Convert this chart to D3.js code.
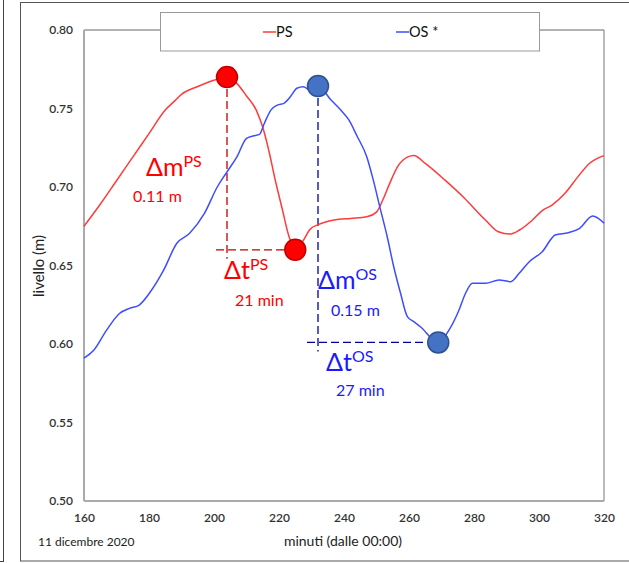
<!DOCTYPE html>
<html>
<head>
<meta charset="utf-8">
<script src="https://cdn.jsdelivr.net/npm/d3@7"></script>
<style>
  body { margin: 0; background: #fff; }
  svg text { font-family: Lato, "Open Sans", sans-serif; }
</style>
</head>
<body>
<div id="chart"></div>
<script>
// PS series (minutes, level m)
const psTime = [160, 165, 170, 175, 180, 185, 188, 190, 195, 200, 204, 207, 210, 213, 215, 217, 219, 221, 223, 225,
  227.5, 229.5, 232, 237, 242, 247, 250, 252, 254, 256.5, 259.5, 261.5, 265, 271, 277, 283.5, 287.5, 291, 294, 298,
  301, 304, 308, 312, 315.5, 320];
const psLevel = [0.675, 0.689, 0.704, 0.719, 0.734, 0.749, 0.755, 0.759, 0.764, 0.768, 0.770, 0.766, 0.758, 0.749, 0.738, 0.722, 0.703, 0.686, 0.669, 0.660,
  0.666, 0.673, 0.676, 0.679, 0.680, 0.681, 0.684, 0.692, 0.702, 0.713, 0.719, 0.720, 0.715, 0.7045, 0.693, 0.679, 0.6715, 0.670, 0.6726, 0.679,
  0.685, 0.6885, 0.696, 0.7066, 0.715, 0.720];

// OS series
const osTime = [160, 163, 167, 171, 174, 177, 180, 184.5, 188.5, 192.5, 197, 201, 203.7, 207, 210, 212, 214, 215.5, 217.5, 219.5,
  221.5, 223.5, 225.5, 227.5, 229.5, 232, 236, 239, 241.5, 244, 247, 249, 251, 253.3, 255.3, 257.4, 259.5, 261.5, 263.5, 269,
  272.3, 275.4, 277.4, 279.5, 283.6, 287.7, 291.3, 293.9, 297, 301, 305, 309, 312.5, 316.5, 320];
const osLevel = [0.591, 0.596, 0.609, 0.6196, 0.6227, 0.6248, 0.632, 0.647, 0.664, 0.6705, 0.683, 0.700, 0.7087, 0.719, 0.731, 0.7325, 0.7335, 0.7406, 0.749, 0.7522,
  0.7533, 0.7575, 0.7629, 0.7639, 0.7618, 0.7643, 0.7554, 0.749, 0.7427, 0.7325, 0.7193, 0.7045, 0.6875, 0.6683, 0.6492, 0.6323, 0.6174, 0.6142, 0.611, 0.601,
  0.6089, 0.6217, 0.6323, 0.6387, 0.6387, 0.6408, 0.6397, 0.645, 0.6524, 0.6588, 0.6694, 0.6709, 0.6737, 0.6815, 0.677];

// peak / trough markers
const psMarks = [{ t: 204, v: 0.770 }, { t: 225, v: 0.660 }];
const osMarks = [{ t: 232, v: 0.7643 }, { t: 269, v: 0.601 }];

const xTicks = [160, 180, 200, 220, 240, 260, 280, 300, 320];
const yTicks = [0.50, 0.55, 0.60, 0.65, 0.70, 0.75, 0.80];

const width = 629, height = 563;
const margin = { top: 30, right: 25, bottom: 62, left: 84 };

const colors = {
  ps: "#ff3b3b",
  os: "#3d4dff",
  psDark: "#c00000",
  osDark: "#0000a0",
  psText: "#ff0000",
  osText: "#1a1aff",
};

const svg = d3.select("#chart").append("svg")
  .attr("width", width).attr("height", height);

// outer frames
svg.append("rect").attr("x", -60).attr("y", -10).attr("width", 63.5).attr("height", 571.5)
  .attr("fill", "none").attr("stroke", "#444");
svg.append("rect").attr("x", 20.5).attr("y", 2.5).attr("width", 640).attr("height", 558.5)
  .attr("fill", "none").attr("stroke", "#555");

const x = d3.scaleLinear().domain([160, 320]).range([margin.left, width - margin.right]);
const y = d3.scaleLinear().domain([0.5, 0.8]).range([height - margin.bottom, margin.top]);

// plot area border
const x0 = x(160), x1 = x(320), y0 = y(0.5), y1 = y(0.8);
svg.append("line").attr("x1", x0).attr("x2", x1).attr("y1", y1).attr("y2", y1).attr("stroke", "#666");
svg.append("line").attr("x1", x1).attr("x2", x1).attr("y1", y1).attr("y2", y0).attr("stroke", "#777");
svg.append("line").attr("x1", x0).attr("x2", x0).attr("y1", y1).attr("y2", y0).attr("stroke", "#aaa").attr("stroke-width", 2);
svg.append("line").attr("x1", x0).attr("x2", x1).attr("y1", y0).attr("y2", y0).attr("stroke", "#aaa").attr("stroke-width", 2);

// axes
svg.append("g")
  .attr("transform", `translate(0, ${y0})`)
  .call(d3.axisBottom(x).tickValues(xTicks).tickSize(0).tickPadding(12).tickFormat(d3.format("d")))
  .call((g) => g.select(".domain").remove())
  .selectAll("text")
  .style("font-family", "Lato, sans-serif")
  .style("font-size", "12px")
  .style("font-weight", "600")
  .attr("fill", "#333");

svg.append("g")
  .attr("transform", `translate(${x0}, 0)`)
  .call(d3.axisLeft(y).tickValues(yTicks).tickSize(0).tickPadding(11).tickFormat(d3.format(".2f")))
  .call((g) => g.select(".domain").remove())
  .selectAll("text")
  .style("font-family", "Lato, sans-serif")
  .style("font-size", "12px")
  .style("font-weight", "600")
  .attr("fill", "#333");

svg.append("text")
  .attr("x", (x0 + x1) / 2 - 1).attr("y", 546)
  .attr("text-anchor", "middle")
  .style("font-size", "14px").attr("fill", "#222")
  .text("minuti (dalle 00:00)");

svg.append("text")
  .attr("transform", "translate(44, 266) rotate(-90)")
  .attr("text-anchor", "middle")
  .style("font-size", "15px").attr("fill", "#222")
  .text("livello (m)");

svg.append("text")
  .attr("x", 38).attr("y", 546)
  .style("font-size", "12px").attr("fill", "#222")
  .text("11 dicembre 2020");

// dashed guides
const guides = [
  { m: psMarks, color: colors.psDark },
  { m: osMarks, color: colors.osDark },
];
guides.forEach((g) => {
  const [a, b] = g.m;
  svg.append("line")
    .attr("x1", x(a.t)).attr("x2", x(a.t))
    .attr("y1", y(a.v)).attr("y2", y(b.v) + 9)
    .attr("stroke", g.color).attr("stroke-width", 1.3).attr("stroke-dasharray", "8,4");
  svg.append("line")
    .attr("x1", x(a.t) - 11).attr("x2", x(b.t))
    .attr("y1", y(b.v)).attr("y2", y(b.v))
    .attr("stroke", g.color).attr("stroke-width", 1.3).attr("stroke-dasharray", "8,4");
});

// lines
const line = d3.line()
  .x((d) => x(d[0]))
  .y((d) => y(d[1]))
  .curve(d3.curveMonotoneX);

svg.append("path")
  .datum(d3.zip(psTime, psLevel))
  .attr("d", line)
  .attr("fill", "none").attr("stroke", colors.ps).attr("stroke-width", 1.5);

svg.append("path")
  .datum(d3.zip(osTime, osLevel))
  .attr("d", line)
  .attr("fill", "none").attr("stroke", colors.os).attr("stroke-width", 1.5);

// markers
svg.selectAll(".psm").data(psMarks).join("circle")
  .attr("cx", (d) => x(d.t)).attr("cy", (d) => y(d.v)).attr("r", 10.5)
  .attr("fill", "#ff0000").attr("stroke", "#c00000").attr("stroke-width", 1.5);
svg.selectAll(".osm").data(osMarks).join("circle")
  .attr("cx", (d) => x(d.t)).attr("cy", (d) => y(d.v)).attr("r", 10.5)
  .attr("fill", "#4472c4").attr("stroke", "#2f528f").attr("stroke-width", 1.5);

// annotations
const labels = [
  { main: "\u0394m", sup: "PS", value: "0.11 m", x: 146, y: 176, vx: 133, vy: 202, color: colors.psText },
  { main: "\u0394t", sup: "PS", value: "21 min", x: 224, y: 279, vx: 235, vy: 306, color: colors.psText },
  { main: "\u0394m", sup: "OS", value: "0.15 m", x: 318, y: 289, vx: 331, vy: 316, color: colors.osText },
  { main: "\u0394t", sup: "OS", value: "27 min", x: 326, y: 371, vx: 336, vy: 396, color: colors.osText },
];
labels.forEach((l) => {
  const t = svg.append("text").attr("x", l.x).attr("y", l.y).attr("fill", l.color).style("font-size", "25px");
  t.append("tspan").text(l.main);
  t.append("tspan").attr("dy", -9).style("font-size", "16px").text(l.sup);
  svg.append("text").attr("x", l.vx).attr("y", l.vy).attr("fill", l.color)
    .style("font-size", "16px").text(l.value);
});

// legend
svg.append("rect")
  .attr("x", 160.5).attr("y", 12.5).attr("width", 379).attr("height", 38.5)
  .attr("fill", "#fff").attr("stroke", "#999");
const legendItems = [
  { name: "PS", color: colors.ps, x: 263 },
  { name: "OS *", color: colors.os, x: 396 },
];
legendItems.forEach((d) => {
  svg.append("line").attr("x1", d.x).attr("x2", d.x + 13).attr("y1", 32).attr("y2", 32)
    .attr("stroke", d.color).attr("stroke-width", 1.5);
  svg.append("text").attr("x", d.x + 13).attr("y", 37)
    .style("font-size", "14.5px").attr("fill", "#111").text(d.name);
});
</script>
</body>
</html>
